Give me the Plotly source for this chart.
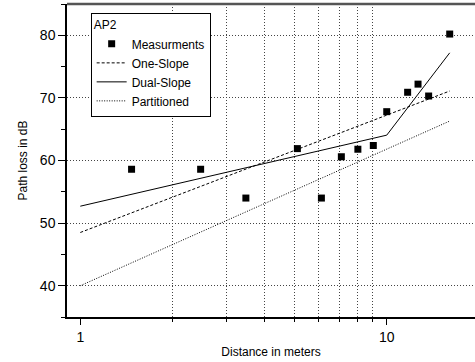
import plotly.graph_objects as go

# Measurements
meas_x = [1.47, 2.47, 3.47, 5.11, 6.12, 7.11, 8.05, 9.04, 10.0, 11.7, 12.65, 13.7, 16.05]
meas_y = [58.6, 58.6, 54.0, 61.9, 54.0, 60.6, 61.8, 62.4, 67.8, 70.9, 72.2, 70.3, 80.2]

# Models
one_x = [1, 16.05]
one_y = [48.5, 71.1]
dual_x = [1, 10.0, 16.05]
dual_y = [52.7, 64.05, 77.2]
part_x = [1, 16.05]
part_y = [40.0, 66.3]

x_tickvals = [1, 10]
x_minor = [2, 3, 4, 5, 6, 7, 8, 9]
y_tickvals = [40, 50, 60, 70, 80]
y_minor = [35, 45, 55, 65, 75, 85]

FONT = "Liberation Sans, Arial, sans-serif"

fig = go.Figure()
fig.add_trace(go.Scatter(x=meas_x, y=meas_y, mode="markers", name="Measurments",
                         marker=dict(symbol="square", size=7, color="black")))
fig.add_trace(go.Scatter(x=one_x, y=one_y, mode="lines", name="One-Slope",
                         line=dict(color="black", width=1, dash="3px,2px")))
fig.add_trace(go.Scatter(x=dual_x, y=dual_y, mode="lines", name="Dual-Slope",
                         line=dict(color="black", width=1)))
fig.add_trace(go.Scatter(x=part_x, y=part_y, mode="lines", name="Partitioned",
                         line=dict(color="black", width=1, dash="1px,1.5px")))

fig.update_layout(
    width=475, height=362,
    margin=dict(l=67, r=0, t=4, b=45),
    paper_bgcolor="white", plot_bgcolor="white",
    font=dict(family=FONT, size=12, color="black"),
    showlegend=True,
    legend=dict(
        title=dict(text="AP2", font=dict(size=12)),
        x=0.058, y=0.972, xanchor="left", yanchor="top",
        bgcolor="white", bordercolor="black", borderwidth=1,
        font=dict(size=12), tracegroupgap=0, itemwidth=30,
    ),
    xaxis=dict(
        type="log", range=[-0.0434, 1.288],
        tickvals=x_tickvals, ticktext=["1", "10"],
        ticks="outside", ticklen=6, tickwidth=1, tickcolor="black",
        showline=True, linecolor="black", linewidth=1.5,
        showgrid=False, zeroline=False,
        tickfont=dict(size=14),
        minor=dict(tickvals=x_minor, ticks="outside", ticklen=3, tickcolor="black",
                   showgrid=True, gridcolor="#444", griddash="1px,2px", gridwidth=1),
        title=dict(text="Distance in meters", font=dict(size=12), standoff=4),
    ),
    yaxis=dict(
        range=[35, 85],
        tickvals=y_tickvals,
        ticks="outside", ticklen=7, tickwidth=1, tickcolor="black",
        showline=True, linecolor="black", linewidth=1.5,
        showgrid=True, gridcolor="#444", griddash="1px,2px", gridwidth=1,
        zeroline=False,
        tickfont=dict(size=14),
        minor=dict(tickvals=y_minor, ticks="outside", ticklen=4, tickcolor="black",
                   showgrid=False),
        title=dict(text="Path loss in dB", font=dict(size=12), standoff=10),
    ),
)
fig.add_shape(type="line", xref="paper", yref="paper", x0=0, x1=1, y0=1, y1=1,
              line=dict(color="#555", width=2.5))

fig.write_html(
    "out.html",
    config={"displayModeBar": False},
    post_script="document.body.style.margin='0';document.body.style.overflow='hidden';",
)
